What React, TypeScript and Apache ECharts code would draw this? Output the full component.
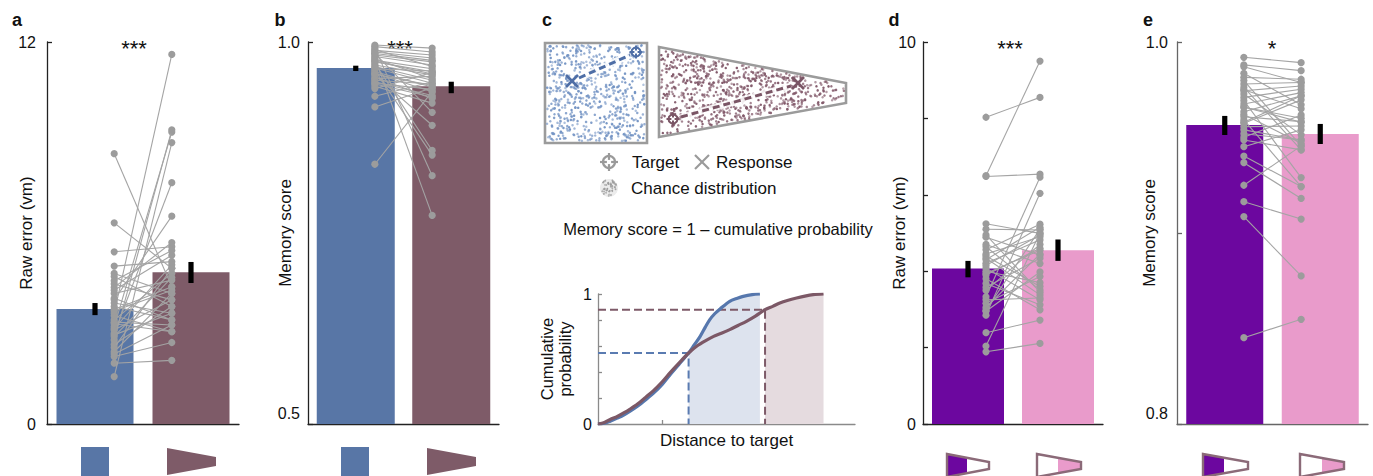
import React, { useEffect, useRef } from "react";
import * as echarts from "echarts";

const FONT = '"Liberation Sans", Arial, Helvetica, sans-serif';

const BLUE = "#5876a6";
const MAROON = "#7e5b68";
const PURPLE = "#6c079f";
const PINK = "#e99bcb";
const SUBJ_LINE = "#a4a4a4";
const SUBJ_DOT = "#9c9c9c";

// a — raw error (vm), square vs trapezoid arena
const aMeans = [3.61, 4.77];
const aErr = [[3.42, 3.8], [4.43, 5.09]];
const aSquare = [8.49, 6.32, 5.41, 4.96, 4.73, 4.63, 4.29, 4.1, 3.9, 3.69, 3.48, 3.27, 3.06, 2.85, 2.64, 2.27, 2.12, 1.91, 1.49, 4.4, 4.2, 3.8, 3.6, 3.4, 3.2, 3.0, 2.95, 2.75, 2.5, 2.4, 3.95, 3.55, 3.15, 2.8, 2.2, 4.5];
const aTrap = [4.31, 4.89, 5.57, 5.1, 4.1, 3.69, 5.7, 4.52, 6.53, 3.27, 11.61, 4.73, 9.17, 7.58, 9.24, 4.1, 2.56, 2.0, 8.84, 3.9, 5.3, 3.48, 4.31, 2.9, 3.11, 5.0, 3.9, 4.6, 3.69, 4.89, 3.27, 4.2, 2.9, 3.48, 3.11, 5.45];

// b — memory score, square vs trapezoid arena
const bMeans = [0.966, 0.942];
const bErr = [[0.962, 0.969], [0.933, 0.948]];
const bSquare = [0.996, 0.994, 0.992, 0.989, 0.987, 0.985, 0.983, 0.981, 0.979, 0.976, 0.974, 0.972, 0.97, 0.968, 0.966, 0.963, 0.961, 0.959, 0.957, 0.954, 0.952, 0.95, 0.948, 0.946, 0.942, 0.939, 0.929, 0.915, 0.84, 0.99, 0.978, 0.965, 0.958, 0.945, 0.985, 0.975];
const bTrap = [0.992, 0.987, 0.825, 0.983, 0.979, 0.908, 0.974, 0.97, 0.773, 0.965, 0.961, 0.858, 0.957, 0.95, 0.946, 0.852, 0.941, 0.935, 0.891, 0.926, 0.955, 0.945, 0.93, 0.938, 0.92, 0.96, 0.948, 0.94, 0.935, 0.968, 0.952, 0.962, 0.943, 0.928, 0.976, 0.958];

// d — raw error (vm), wide vs narrow half of the trapezoid
const dMeans = [4.07, 4.55];
const dErr = [[3.84, 4.27], [4.27, 4.83]];
const dWide = [8.03, 6.5, 6.48, 5.24, 5.1, 4.89, 4.64, 4.56, 4.45, 4.34, 4.21, 4.08, 3.94, 3.68, 3.58, 3.33, 3.16, 2.98, 2.85, 2.39, 2.04, 1.89, 4.7, 4.4, 4.15, 3.8, 3.5, 4.0, 4.3, 3.25, 3.05, 4.95, 3.9, 2.95];
const dNarrow = [8.55, 9.5, 6.54, 4.99, 5.08, 4.42, 3.51, 5.23, 4.9, 3.38, 4.82, 3.25, 4.55, 3.12, 4.34, 6.46, 3.86, 5.1, 6.04, 2.72, 5.0, 2.11, 4.2, 3.6, 4.95, 2.99, 4.7, 3.7, 5.15, 3.3, 4.45, 3.45, 4.6, 3.98];

// e — memory score, wide vs narrow half of the trapezoid
const eMeans = [0.9565, 0.9518];
const eErr = [[0.9513, 0.9613], [0.9466, 0.9571]];
const eWide = [0.992, 0.988, 0.9836, 0.9815, 0.9798, 0.978, 0.9763, 0.9745, 0.9728, 0.971, 0.9693, 0.9675, 0.9658, 0.9635, 0.9609, 0.9592, 0.9574, 0.9557, 0.954, 0.9501, 0.9487, 0.9452, 0.9403, 0.9368, 0.925, 0.9164, 0.9086, 0.8452, 0.975, 0.966, 0.958, 0.952, 0.987, 0.962];
const eNarrow = [0.9892, 0.985, 0.9671, 0.9805, 0.9456, 0.9788, 0.9435, 0.977, 0.9514, 0.9753, 0.929, 0.9735, 0.9601, 0.9718, 0.9583, 0.9243, 0.9697, 0.956, 0.9487, 0.9618, 0.9435, 0.954, 0.9243, 0.9181, 0.9456, 0.9073, 0.8775, 0.8548, 0.965, 0.958, 0.9718, 0.9487, 0.9788, 0.947];

// c — cumulative distribution of distance to target under chance
const cdfSquare = [[0, 0], [0.1, 0.006], [0.19, 0.022], [0.3, 0.045], [0.4, 0.068], [0.5, 0.098], [0.62, 0.138], [0.74, 0.185], [0.86, 0.235], [1.0, 0.305], [1.12, 0.378], [1.26, 0.458], [1.41, 0.546], [1.5, 0.61], [1.59, 0.674], [1.67, 0.745], [1.74, 0.803], [1.82, 0.85], [1.9, 0.885], [2.05, 0.944], [2.17, 0.968], [2.26, 0.982], [2.4, 0.995], [2.52, 1.0]];
const cdfTrap = [[0, 0], [0.1, 0.012], [0.19, 0.035], [0.3, 0.058], [0.4, 0.085], [0.5, 0.115], [0.62, 0.155], [0.74, 0.205], [0.86, 0.255], [1.0, 0.325], [1.12, 0.393], [1.26, 0.468], [1.41, 0.546], [1.54, 0.6], [1.67, 0.64], [1.8, 0.674], [1.93, 0.7], [2.05, 0.726], [2.18, 0.758], [2.31, 0.79], [2.45, 0.83], [2.6, 0.879], [2.72, 0.905], [2.83, 0.931], [2.96, 0.952], [3.09, 0.969], [3.22, 0.984], [3.35, 0.995], [3.51, 1.0]];
const squareResponse = [1.41, 0.546];
const trapResponse = [2.6, 0.879];

const ticksFont = { fontSize: 16, fontFamily: FONT, color: "#111" };
const titleFont = { fontSize: 17, fontFamily: FONT, color: "#111" };

type PanelCfg = {
  idx: number;
  grid: { left: number; top: number; width: number; height: number };
  min: number;
  max: number;
  interval: number;
  decimals: number;
  liftMin: boolean;
  labelMargin: number;
  axisColor: string;
  name: string;
  nameGap: number;
  barWidth: number;
  means: number[];
  err: number[][];
  left: number[];
  right: number[];
  colors: string[];
};

function pairedPanel(c: PanelCfg) {
  const near = (a: number, b: number) => Math.abs(a - b) < 1e-9;
  const grid = { ...c.grid, containLabel: false, outerBoundsMode: "none" };
  const xAxis = {
    gridIndex: c.idx,
    type: "value",
    min: -0.5,
    max: 1.5,
    axisLine: { show: true, onZero: false, lineStyle: { color: c.axisColor, width: 1.3 } },
    axisTick: { show: false },
    axisLabel: { show: false },
    splitLine: { show: false },
  };
  const yAxis = {
    gridIndex: c.idx,
    type: "value",
    min: c.min,
    max: c.max,
    interval: c.interval,
    name: c.name,
    nameLocation: "middle",
    nameGap: c.nameGap,
    nameMoveOverlap: false,
    nameTextStyle: titleFont,
    axisLine: { show: true, onZero: false, lineStyle: { color: c.axisColor, width: 1.3 } },
    axisTick: { show: true, inside: true, length: 5, lineStyle: { color: c.axisColor, width: 1.3 } },
    axisLabel: {
      ...ticksFont,
      margin: c.labelMargin,
      formatter: (v: number) => {
        const s = v.toFixed(c.decimals);
        if (near(v, c.min)) return c.liftMin ? `{lo|${s}}` : s;
        if (near(v, c.max)) return s;
        return "";
      },
      rich: { lo: { ...ticksFont, padding: [0, 0, 22, 0] } },
    },
    splitLine: { show: false },
  };
  const series = [
    {
      type: "bar",
      xAxisIndex: c.idx,
      yAxisIndex: c.idx,
      barWidth: c.barWidth,
      silent: true,
      z: 2,
      data: c.means.map((m, i) => ({ value: [i, m], itemStyle: { color: c.colors[i] } })),
    },
    {
      type: "custom",
      xAxisIndex: c.idx,
      yAxisIndex: c.idx,
      silent: true,
      z: 3,
      encode: { x: 0, y: [1, 2] },
      data: c.err.map((e, i) => [i, e[0], e[1]]),
      renderItem: (_p: any, api: any) => {
        const top = api.coord([api.value(0), api.value(2)]);
        const bot = api.coord([api.value(0), api.value(1)]);
        return {
          type: "rect",
          shape: { x: top[0] - 2.6, y: top[1], width: 5.2, height: bot[1] - top[1] },
          style: { fill: "#000" },
        };
      },
    },
    {
      type: "custom",
      xAxisIndex: c.idx,
      yAxisIndex: c.idx,
      silent: true,
      z: 4,
      encode: { x: [0, 2], y: [1, 3] },
      data: c.left.map((v, i) => [0.2, v, 0.8, c.right[i]]),
      renderItem: (_p: any, api: any) => {
        const p1 = api.coord([api.value(0), api.value(1)]);
        const p2 = api.coord([api.value(2), api.value(3)]);
        return {
          type: "group",
          children: [
            { type: "line", shape: { x1: p1[0], y1: p1[1], x2: p2[0], y2: p2[1] }, style: { stroke: SUBJ_LINE, lineWidth: 1.1 } },
            { type: "circle", shape: { cx: p1[0], cy: p1[1], r: 3.6 }, style: { fill: SUBJ_DOT } },
            { type: "circle", shape: { cx: p2[0], cy: p2[1], r: 3.6 }, style: { fill: SUBJ_DOT } },
          ],
        };
      },
    },
  ];
  return { grid, xAxis, yAxis, series };
}

// deterministic stipple texture for the arena drawings
const hash = (n: number, k: number) => {
  const s = Math.sin(n * 127.1 + k * 311.7) * 43758.5453;
  return s - Math.floor(s);
};

function stipple(count: number, x0: number, y0: number, w: number, h: number, inside: (x: number, y: number) => boolean, color: string, seed: number, r = 1.25) {
  const out: any[] = [];
  let n = 0;
  while (out.length < count && n < count * 5) {
    const x = x0 + hash(n, seed) * w;
    const y = y0 + hash(n, seed + 1.37) * h;
    const o = 0.55 + 0.45 * hash(n, seed + 2.91);
    n++;
    if (!inside(x, y)) continue;
    out.push({ type: "circle", silent: true, shape: { cx: x, cy: y, r }, style: { fill: color, opacity: o } });
  }
  return out;
}

function targetIcon(cx: number, cy: number, r: number, arm: number, color: string, lw: number) {
  return {
    type: "group",
    silent: true,
    children: [
      { type: "circle", shape: { cx, cy, r }, style: { fill: "#fff", stroke: color, lineWidth: lw } },
      { type: "line", shape: { x1: cx - arm, y1: cy, x2: cx - r * 0.35, y2: cy }, style: { stroke: color, lineWidth: lw } },
      { type: "line", shape: { x1: cx + r * 0.35, y1: cy, x2: cx + arm, y2: cy }, style: { stroke: color, lineWidth: lw } },
      { type: "line", shape: { x1: cx, y1: cy - arm, x2: cx, y2: cy - r * 0.35 }, style: { stroke: color, lineWidth: lw } },
      { type: "line", shape: { x1: cx, y1: cy + r * 0.35, x2: cx, y2: cy + arm }, style: { stroke: color, lineWidth: lw } },
    ],
  };
}

function crossIcon(cx: number, cy: number, s: number, color: string, lw: number) {
  return {
    type: "group",
    silent: true,
    children: [
      { type: "line", shape: { x1: cx - s, y1: cy - s, x2: cx + s, y2: cy + s }, style: { stroke: color, lineWidth: lw } },
      { type: "line", shape: { x1: cx - s, y1: cy + s, x2: cx + s, y2: cy - s }, style: { stroke: color, lineWidth: lw } },
    ],
  };
}

// dashed connector with a white halo so it reads over the stipple
function dashedLink(x1: number, y1: number, x2: number, y2: number, color: string) {
  return [
    { type: "line", silent: true, shape: { x1, y1, x2, y2 }, style: { stroke: "#fff", lineWidth: 7, opacity: 0.85 } },
    { type: "line", silent: true, shape: { x1, y1, x2, y2 }, style: { stroke: color, lineWidth: 3, lineDash: [7, 4] } },
  ];
}

function label(text: string, x: number, y: number, size: number, opts: any = {}) {
  return {
    type: "text",
    silent: true,
    x,
    y,
    style: { text, fontSize: size, fontFamily: FONT, fill: "#111", align: "center", verticalAlign: "middle", ...opts },
  };
}

// small trapezoid glyph with one half filled
function halfTrap(x0: number, x1: number, split: number, fillLeft: boolean, color: string) {
  const topY = (x: number) => 454 + ((x - x0) / (x1 - x0)) * 8;
  const botY = (x: number) => 477 - ((x - x0) / (x1 - x0)) * 8;
  const a = fillLeft ? x0 : split;
  const b = fillLeft ? split : x1;
  return [
    { type: "polygon", silent: true, shape: { points: [[a, topY(a)], [b, topY(b)], [b, botY(b)], [a, botY(a)]] }, style: { fill: color } },
    { type: "polygon", silent: true, shape: { points: [[x0, 454], [x1, 462], [x1, 469], [x0, 477]] }, style: { fill: "none", stroke: "#8b6a78", lineWidth: 2.4 } },
  ];
}

function buildGraphic() {
  const els: any[] = [];

  // panel letters
  [["a", 17], ["b", 280], ["c", 547], ["d", 894], ["e", 1148]].forEach(([t, x]) =>
    els.push(label(t as string, x as number, 20, 18, { fontWeight: "bold" }))
  );
  // significance stars
  els.push(label("***", 134, 48, 22));
  els.push(label("***", 400, 48, 22));
  els.push(label("***", 1010, 48, 22));
  els.push(label("*", 1272, 48, 22));

  // condition glyphs under panels a and b
  [0, 260].forEach((dx) => {
    els.push({ type: "rect", silent: true, shape: { x: 81 + dx, y: 447, width: 28, height: 29 }, style: { fill: BLUE } });
    els.push({ type: "polygon", silent: true, shape: { points: [[167 + dx, 448], [216 + dx, 457], [216 + dx, 466], [167 + dx, 475]] }, style: { fill: MAROON } });
  });
  // half-filled trapezoid glyphs under panels d and e
  els.push(...halfTrap(947, 989, 967, true, PURPLE));
  els.push(...halfTrap(1037, 1081, 1058, false, PINK));
  els.push(...halfTrap(1203, 1248, 1224, true, PURPLE));
  els.push(...halfTrap(1300, 1344, 1322, false, PINK));

  // square arena
  els.push({ type: "rect", silent: true, shape: { x: 545, y: 43, width: 102, height: 100 }, style: { fill: "#fff", stroke: "#9b9b9b", lineWidth: 2.6 } });
  els.push(...stipple(640, 547, 45, 98, 96, () => true, "#7494c4", 3.1));
  els.push(...dashedLink(579, 78, 630, 55, "#4e6ea6"));
  els.push(targetIcon(636, 52, 4.5, 6.5, "#4e6ea6", 2));
  els.push(crossIcon(572, 81, 6, "#4e6ea6", 2.6));

  // trapezoid arena
  const tx0 = 659, tx1 = 846;
  const tTop = (x: number) => 47 + ((x - tx0) / (tx1 - tx0)) * 36;
  const tBot = (x: number) => 137 - ((x - tx0) / (tx1 - tx0)) * 34;
  els.push({ type: "polygon", silent: true, shape: { points: [[659, 47], [846, 83], [846, 103], [659, 137]] }, style: { fill: "#fff", stroke: "#9b9b9b", lineWidth: 2.6 } });
  els.push(...stipple(760, 661, 49, 183, 86, (x, y) => y > tTop(x) + 2 && y < tBot(x) - 2, "#82596a", 7.7));
  els.push(...dashedLink(681, 117, 791, 86, "#7a5565"));
  els.push(targetIcon(673, 119, 4.5, 6.5, "#7a5565", 2));
  els.push(crossIcon(798, 83, 6, "#7a5565", 2.6));

  // legend
  els.push(targetIcon(609, 162, 6, 9, "#9a9a9a", 2.2));
  els.push(label("Target", 632, 162, 17, { align: "left" }));
  els.push(crossIcon(702, 162, 7, "#9a9a9a", 2.2));
  els.push(label("Response", 716, 162, 17, { align: "left" }));
  els.push({ type: "circle", silent: true, shape: { cx: 609, cy: 188, r: 9 }, style: { fill: "#ececec" } });
  els.push(
    ...stipple(45, 600, 179, 18, 18, (x, y) => (x - 609) ** 2 + (y - 188) ** 2 < 72, "#9a9a9a", 11.3, 0.9)
  );
  els.push(label("Chance distribution", 631, 188, 17, { align: "left" }));

  els.push(label("Memory score = 1 \u2013 cumulative probability", 718, 229, 16.5));
  return els;
}

function buildOption() {
  const panels = [
    pairedPanel({ idx: 0, grid: { left: 47, top: 42, width: 192, height: 382 }, min: 0, max: 12, interval: 12, decimals: 0, liftMin: false, labelMargin: 11, axisColor: "#222", name: "Raw error (vm)", nameGap: 12, barWidth: 77, means: aMeans, err: aErr, left: aSquare, right: aTrap, colors: [BLUE, MAROON] }),
    pairedPanel({ idx: 1, grid: { left: 308, top: 42, width: 191, height: 382 }, min: 0.5, max: 1.0, interval: 0.5, decimals: 1, liftMin: true, labelMargin: 8, axisColor: "#222", name: "Memory score", nameGap: 14, barWidth: 78, means: bMeans, err: bErr, left: bSquare, right: bTrap, colors: [BLUE, MAROON] }),
    pairedPanel({ idx: 2, grid: { left: 923, top: 42, width: 180, height: 382 }, min: 0, max: 10, interval: 2, decimals: 0, liftMin: false, labelMargin: 7, axisColor: "#222", name: "Raw error (vm)", nameGap: 15, barWidth: 72, means: dMeans, err: dErr, left: dWide, right: dNarrow, colors: [PURPLE, PINK] }),
    pairedPanel({ idx: 3, grid: { left: 1177, top: 42, width: 191, height: 382 }, min: 0.8, max: 1.0, interval: 0.1, decimals: 1, liftMin: true, labelMargin: 9, axisColor: "#666", name: "Memory score", nameGap: 19, barWidth: 77, means: eMeans, err: eErr, left: eWide, right: eNarrow, colors: [PURPLE, PINK] }),
  ];

  const cdfIdx = 4;
  const cdfAxisColor = "#8a8a8a";
  const cdfGrid = { left: 598, top: 294, width: 257, height: 130, containLabel: false, outerBoundsMode: "none" };
  const cdfX = {
    gridIndex: cdfIdx,
    type: "value",
    min: 0,
    max: 4,
    interval: 1,
    name: "Distance to target",
    nameLocation: "middle",
    nameGap: 8,
    nameMoveOverlap: false,
    nameTextStyle: titleFont,
    axisLine: { show: true, onZero: false, lineStyle: { color: cdfAxisColor, width: 1.3 } },
    axisTick: { show: true, inside: true, length: 4, customValues: [1, 2, 3], lineStyle: { color: cdfAxisColor, width: 1.3 } },
    axisLabel: { show: false },
    splitLine: { show: false },
  };
  const cdfY = {
    gridIndex: cdfIdx,
    type: "value",
    min: 0,
    max: 1,
    interval: 0.2,
    name: "Cumulative\nprobability",
    nameLocation: "middle",
    nameGap: 24,
    nameMoveOverlap: false,
    nameTextStyle: { ...titleFont, fontSize: 16.5, lineHeight: 18 },
    axisLine: { show: true, onZero: false, lineStyle: { color: cdfAxisColor, width: 1.3 } },
    axisTick: { show: true, inside: true, length: 4, lineStyle: { color: cdfAxisColor, width: 1.3 } },
    axisLabel: { ...ticksFont, margin: 6, formatter: (v: number) => (v === 0 || v === 1 ? String(v) : "") },
    splitLine: { show: false },
  };
  const onCdf = { xAxisIndex: cdfIdx, yAxisIndex: cdfIdx, silent: true, showSymbol: false, symbol: "none" };
  const cdfSeries = [
    { ...onCdf, type: "line", z: 1, data: cdfSquare.filter((p) => p[0] >= squareResponse[0]), lineStyle: { width: 0, opacity: 0 }, areaStyle: { color: "#dde3ee", opacity: 1, origin: "start" } },
    { ...onCdf, type: "line", z: 1, data: cdfTrap.filter((p) => p[0] >= trapResponse[0]), lineStyle: { width: 0, opacity: 0 }, areaStyle: { color: "#e5dbdf", opacity: 1, origin: "start" } },
    { ...onCdf, type: "line", z: 2, data: [[0, squareResponse[1]], squareResponse, [squareResponse[0], 0]], lineStyle: { color: "#5a7bb1", width: 2, type: [8, 4] } },
    { ...onCdf, type: "line", z: 2, data: [[0, trapResponse[1]], trapResponse, [trapResponse[0], 0]], lineStyle: { color: "#7d5a68", width: 2, type: [8, 4] } },
    { ...onCdf, type: "line", z: 3, smooth: 0.3, data: cdfSquare, lineStyle: { color: "#5677ad", width: 3.2 } },
    { ...onCdf, type: "line", z: 4, smooth: 0.3, data: cdfTrap, lineStyle: { color: "#7c5866", width: 3.2 } },
  ];

  return {
    animation: false,
    backgroundColor: "#ffffff",
    textStyle: { fontFamily: FONT },
    grid: [...panels.map((p) => p.grid), cdfGrid],
    xAxis: [...panels.map((p) => p.xAxis), cdfX],
    yAxis: [...panels.map((p) => p.yAxis), cdfY],
    series: [...panels.flatMap((p) => p.series), ...cdfSeries],
    graphic: { elements: buildGraphic() },
  };
}

export default function App() {
  const ref = useRef<HTMLDivElement>(null);
  useEffect(() => {
    if (!ref.current) return;
    const chart = echarts.init(ref.current, undefined, { renderer: "svg" });
    chart.setOption(buildOption() as any);
    return () => chart.dispose();
  }, []);
  return (
    <div
      ref={ref}
      style={{ position: "absolute", left: 0, top: 0, width: 1373, height: 476, background: "#fff" }}
    />
  );
}
